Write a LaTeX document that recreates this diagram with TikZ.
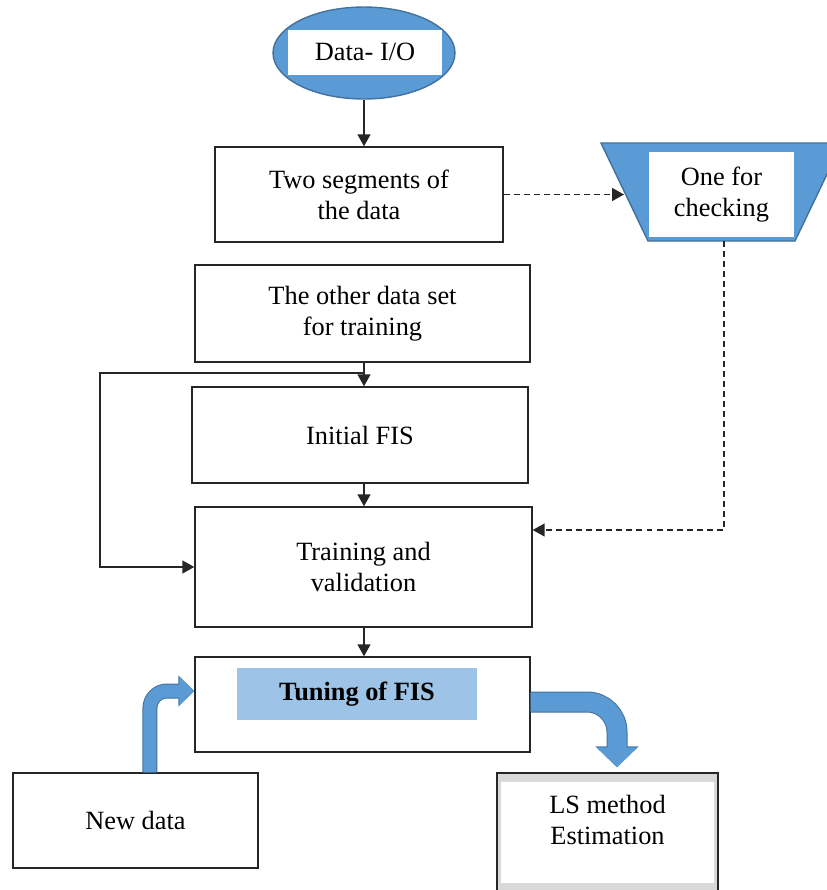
\documentclass[tikz,border=0pt]{standalone}
\usepackage{fontspec}
\setmainfont{Liberation Serif}
\usepackage{xcolor}
\usetikzlibrary{arrows.meta,shapes.geometric}
\definecolor{color_91155}{rgb}{0.357,0.608,0.835}
\definecolor{color_65113}{rgb}{0.255,0.443,0.612}
\definecolor{color_15723}{rgb}{0.616,0.765,0.902}
\definecolor{color_21721}{rgb}{0.851,0.851,0.851}
\definecolor{color_25252}{rgb}{0.149,0.149,0.149}

\begin{document}
\begin{tikzpicture}[x=0.02cm, y=-0.02cm,
		font=\fontsize{15}{17.5}\selectfont,
		box/.style={draw=color_25252, line width=0.85pt, align=center, inner sep=0pt},
		arr/.style={color_25252, line width=0.9pt, -{Triangle[length=0.24cm,width=0.26cm]}},
		lsbox/.style={draw=color_25252, line width=0.85pt, fill=color_21721,
			path picture={\fill[white] ([shift={(0.08cm,0.2cm)}]path picture bounding box.south west)
				rectangle ([shift={(-0.08cm,-0.18cm)}]path picture bounding box.north east);}}]
		\useasboundingbox (0,0) rectangle (826,890);
		
		% Entrée - ellipse Data I/O
		\node[ellipse, draw=color_65113, fill=color_91155, line width=0.8pt,
			minimum width=3.64cm, minimum height=1.84cm] (io) at (364,53) {};
		\node[fill=white, minimum width=3.08cm, minimum height=0.9cm] (iolbl) at (365,52) {Data- I/O};
		
		% Découpage des données
		\node[box, minimum width=5.76cm, minimum height=1.9cm] (seg) at (359,194.5) {Two segments of\\the data};
		
		% Trapèze - données de contrôle
		\filldraw[fill=color_91155, draw=color_65113, line width=0.8pt]
			(601,143) -- (842,143) -- (795,241) -- (648,241) -- cycle;
		\node[fill=white, minimum width=2.9cm, minimum height=1.7cm, align=center] (chk) at (721.5,194.5) {One for\\checking};
		\coordinate (chkin) at (624,194.5);
		\coordinate (chkout) at (724,241);
		
		% Apprentissage
		\node[box, minimum width=6.7cm, minimum height=1.94cm] (train) at (362.5,313.5) {The other data set\\for training};
		\node[box, minimum width=6.72cm, minimum height=1.92cm] (init) at (360,435) {Initial FIS};
		\node[box, minimum width=6.74cm, minimum height=2.4cm] (trval) at (363.5,567) {Training and\\validation};
		
		% Réglage du FIS
		\node[box, minimum width=6.7cm, minimum height=1.9cm] (tune) at (362.5,704.5) {};
		\node[fill=color_15723, minimum width=4.8cm, minimum height=1.04cm,
			font=\fontsize{15}{17.5}\selectfont\bfseries] (tunelbl) at (357,694) {Tuning of FIS};
		
		% Nouvelles données et méthode LS
		\node[box, minimum width=4.9cm, minimum height=1.9cm] (newdata) at (135.5,820.5) {New data};
		\node[lsbox, minimum width=4.42cm, minimum height=2.4cm] (ls) at (607.5,833) {};
		\node[align=center] (lstxt) at (607.5,820) {LS method\\Estimation};
		
		% Flèches
		\coordinate (axis) at (364,0);
		\coordinate (fb) at (364,373);
		\coordinate (loopx) at (100,0);
		\draw[arr] (io.south) -- (io.south |- seg.north);
		\draw[arr] (train.south -| axis) -- (init.north -| axis);
		\draw[arr] (init.south -| axis) -- (trval.north -| axis);
		\draw[arr] (trval.south -| axis) -- (tune.north -| axis);
		\draw[arr] (fb) -- (fb -| loopx) |- (trval.west);
		\draw[arr, dash pattern=on 3.4pt off 2.3pt] (seg.east) -- (chkin);
		\draw[arr, dash pattern=on 3.4pt off 2.3pt] (chkout) |- ([yshift=0.74cm]trval.east);
		
		% Flèches larges
		\draw[line width=0.26cm, color_91155, rounded corners=0.34cm, -{Triangle[length=0.3cm,width=0.56cm]},
			preaction={draw=color_65113, line width=0.3cm, -{Triangle[length=0.32cm,width=0.6cm]}}]
			([xshift=0.29cm]newdata.north) |- ([yshift=0.27cm]tune.west);
		\draw[line width=0.38cm, color_91155, rounded corners=0.6cm, -{Triangle[length=0.4cm,width=0.8cm]},
			preaction={draw=color_65113, line width=0.42cm, -{Triangle[length=0.42cm,width=0.84cm]}}]
			([yshift=0.05cm]tune.east) -| ([xshift=0.19cm,yshift=0.1cm]ls.north);
	\end{tikzpicture}
\end{document}
